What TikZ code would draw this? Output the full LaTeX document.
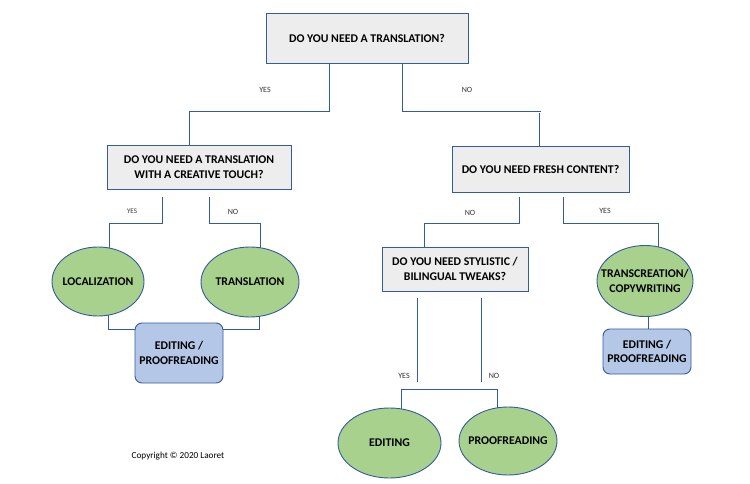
\documentclass[tikz,border=0pt]{standalone}
\usepackage{fontspec}
\setmainfont{Carlito}
\usetikzlibrary{shapes.geometric,backgrounds}
\definecolor{edge}{RGB}{52,92,156}
\definecolor{qfill}{RGB}{237,237,237}
\definecolor{gfill}{RGB}{169,209,142}
\definecolor{bfill}{RGB}{180,199,231}
\begin{document}
\begin{tikzpicture}[x=1pt,y=-1pt,
  qbox/.style={draw=edge,fill=qfill,line width=0.9pt,align=center,font=\fontsize{11.8}{14.5}\selectfont\bfseries,inner sep=0pt},
  oval/.style={ellipse,draw=edge,fill=gfill,line width=0.9pt,align=center,font=\fontsize{11.8}{14.5}\selectfont\bfseries,inner xsep=-40pt,inner ysep=-20pt},
  ebox/.style={draw=edge,fill=bfill,rounded corners=7pt,line width=0.9pt,align=center,font=\fontsize{11.8}{14.5}\selectfont\bfseries,inner sep=0pt},
  conn/.style={draw=edge,line width=0.9pt},
  lab/.style={font=\fontsize{8}{10}\selectfont,text=black!80},
  slab/.style={font=\fontsize{7}{9}\selectfont,text=black!80}]
\useasboundingbox (0,0) rectangle (750,484);
% question boxes
\node[qbox,minimum width=202pt,minimum height=50pt] (top) at (367,38) {DO YOU NEED A TRANSLATION?};
\node[qbox,minimum width=184pt,minimum height=44pt] (A) at (199,167) {DO YOU NEED A TRANSLATION\\WITH A CREATIVE TOUCH?};
\node[qbox,minimum width=177pt,minimum height=46pt] (B) at (540.5,169) {DO YOU NEED FRESH CONTENT?};
\node[qbox,minimum width=146pt,minimum height=44pt] (C) at (455,269) {DO YOU NEED STYLISTIC /\\BILINGUAL TWEAKS?};
% outcome ovals
\node[oval,minimum width=92pt,minimum height=69pt] (loc) at (98,281.5) {LOCALIZATION};
\node[oval,minimum width=98pt,minimum height=70pt] (trans) at (250,282) {TRANSLATION};
\node[oval,minimum width=96pt,minimum height=71pt] (tc) at (645,281) {TRANSCREATION/\\COPYWRITING};
\node[oval,minimum width=103pt,minimum height=70pt] (edit) at (389.5,443) {EDITING};
\node[oval,minimum width=98pt,minimum height=68pt] (proof) at (508,441) {PROOFREADING};
% editing boxes
\node[ebox,minimum width=88pt,minimum height=60pt] (ep1) at (179,353) {EDITING /\\PROOFREADING};
\node[ebox,minimum width=88pt,minimum height=45pt] (ep2) at (647,351.5) {EDITING /\\PROOFREADING};
% labels
\node[lab] (y1) at (265,90) {YES};
\node[lab] (n1) at (467,90) {NO};
\node[slab] (y2) at (132,211) {YES};
\node[lab] (n2) at (233,212) {NO};
\node[lab] (n3) at (470,213) {NO};
\node[lab] (y3) at (605,211) {YES};
\node[lab] (y4) at (404,376) {YES};
\node[lab] (n4) at (494,376) {NO};
\node[font=\fontsize{9.2}{11}\selectfont] (copy) at (178,456) {Copyright © 2020 Laoret};
% coordinates
\coordinate (t1) at (329,111); \coordinate (t2) at (189,111);
\coordinate (t3) at (402,111); \coordinate (t4) at (541,111);
\coordinate (t5) at (539,113);
\coordinate (a1) at (162,197); \coordinate (a2) at (162,223); \coordinate (a3) at (109,223);
\coordinate (a4) at (209,197); \coordinate (a5) at (209,223); \coordinate (a6) at (260,223);
\coordinate (b1) at (519,197); \coordinate (b2) at (519,223); \coordinate (b3) at (424,223);
\coordinate (b4) at (563,197); \coordinate (b5) at (563,223); \coordinate (b6) at (658,223);
\coordinate (c1) at (417,298); \coordinate (c2) at (417,382);
\coordinate (c3) at (481,298); \coordinate (c4) at (481,382);
\coordinate (d1) at (401,389); \coordinate (d2) at (497,389);
\coordinate (e1) at (108,329); \coordinate (e2) at (259,329);
\coordinate (f1) at (648,316);
\begin{scope}[on background layer]
\fill[white] (0,0) rectangle (750,484);
\draw[conn] (top.center -| t1) -- (t1) -- (t2) -- (A.center -| t2);
\draw[conn] (top.center -| t3) -- (t3) -- (t4);
\draw[conn] (t5) -- (B.center -| t5);
\draw[conn] (a1) -- (a2) -- (a3) -- (loc.center -| a3);
\draw[conn] (a4) -- (a5) -- (a6) -- (trans.center -| a6);
\draw[conn] (b1) -- (b2) -- (b3) -- (C.center -| b3);
\draw[conn] (b4) -- (b5) -- (b6) -- (tc.center -| b6);
\draw[conn] (c1) -- (c2);
\draw[conn] (c3) -- (c4);
\draw[conn] (edit.center -| d1) -- (d1) -- (d2) -- (proof.center -| d2);
\draw[conn] (loc.center -| e1) -- (e1) -- (ep1.center |- e1);
\draw[conn] (trans.center -| e2) -- (e2) -- (ep1.center |- e2);
\draw[conn] (tc.center -| f1) -- (ep2.center -| f1);
\end{scope}
\end{tikzpicture}
\end{document}
